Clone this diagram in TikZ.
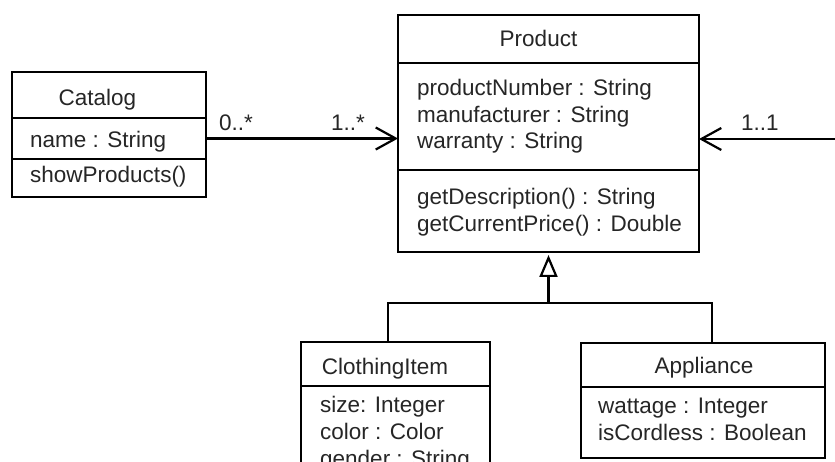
\documentclass[tikz,border=0pt]{standalone}
\usepackage{fontspec}
\setmainfont{Liberation Sans}
\usetikzlibrary{arrows.meta,calc}
\begin{document}
\begin{tikzpicture}[x=1pt,y=1pt,
  comp/.style={draw=black, line width=2.2pt, anchor=north west, inner sep=0pt, outer sep=0pt},
  lbl/.style={font=\fontsize{22.5}{27}\selectfont, text=black!85, inner sep=0pt},
  title/.style={lbl, anchor=base},
  attr/.style={lbl, anchor=base west},
  assoc/.style={line width=2.2pt, -{Straight Barb[length=20pt,width=22pt,line width=2.2pt]}},
  gen/.style={line width=2.2pt},
]
\clip (0,0) rectangle (835,-462);
\fill[white] (0,0) rectangle (835,-462);

% Catalog
\node[comp, minimum width=194, minimum height=46] (catH) at (12,-72) {};
\node[comp, minimum width=194, minimum height=41] (catA) at (catH.south west) {};
\node[comp, minimum width=194, minimum height=38] (catM) at (catA.south west) {};
\node[title] (catT) at (97.5,-106) {Catalog};
\node[attr] (catA1) at (30,-148) {name : String};
\node[attr] (catM1) at (30,-183) {showProducts()};

% Product
\node[comp, minimum width=301, minimum height=48] (prodH) at (398,-15) {};
\node[comp, minimum width=301, minimum height=107] (prodA) at (prodH.south west) {};
\node[comp, minimum width=301, minimum height=82] (prodM) at (prodA.south west) {};
\node[title] (prodT) at (538.5,-47) {Product};
\node[attr] (prodA1) at (417,-96) {productNumber : String};
\node[attr] (prodA2) at (417,-122.5) {manufacturer : String};
\node[attr] (prodA3) at (417,-149) {warranty : String};
\node[attr] (prodM1) at (417,-205) {getDescription() : String};
\node[attr] (prodM2) at (417,-231.5) {getCurrentPrice() : Double};

% ClothingItem
\node[comp, minimum width=189, minimum height=44] (cloH) at (301,-342) {};
\node[comp, minimum width=189, minimum height=120] (cloA) at (cloH.south west) {};
\node[title] (cloT) at (385,-374) {ClothingItem};
\node[attr] (cloA1) at (320,-412.5) {size: Integer};
\node[attr] (cloA2) at (320,-439.5) {color : Color};
\node[attr] (cloA3) at (320,-466.5) {gender : String};

% Appliance
\node[comp, minimum width=244, minimum height=44] (appH) at (581,-343) {};
\node[comp, minimum width=244, minimum height=71] (appA) at (appH.south west) {};
\node[title] (appT) at (704,-373) {Appliance};
\node[attr] (appA1) at (598,-413.5) {wattage : Integer};
\node[attr] (appA2) at (598,-440.5) {isCordless : Boolean};

% Associations
\draw[assoc] (catA.east) -- (catA.east -| prodA.west)
  node[pos=0, lbl, anchor=base west, xshift=12pt, yshift=8pt] (m1) {0..*}
  node[pos=1, lbl, anchor=base east, xshift=-32pt, yshift=8pt] (m2) {1..*};
\coordinate (rEnd) at (840,-139);
\draw[assoc] (rEnd) -- (rEnd -| prodA.east)
  node[pos=1, lbl, anchor=base west, xshift=41pt, yshift=8pt] (m3) {1..1};

% Generalization
\coordinate (gj) at (prodM.south |- 0,-303);
\draw[gen] ($(cloH.north west)+(87,0)$) |- (gj);
\draw[gen] ($(appH.north west)+(131,0)$) |- (gj);
\draw[gen, shorten >=3pt, -{Triangle[open, length=22pt, width=18pt, line width=2.2pt, fill=white]}] (gj) -- (prodM.south);
\end{tikzpicture}
\end{document}
